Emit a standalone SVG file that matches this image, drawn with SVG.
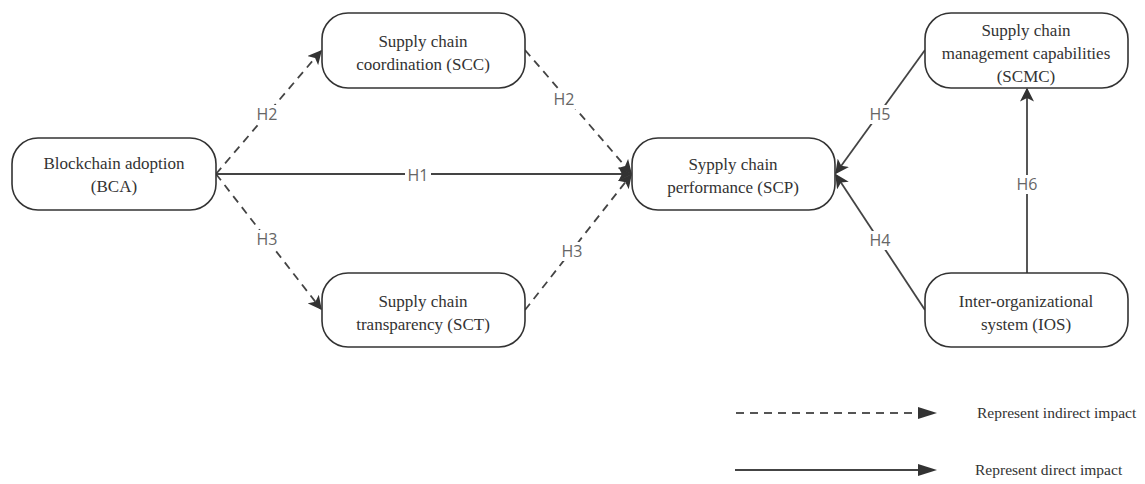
<svg xmlns="http://www.w3.org/2000/svg" width="1145" height="484" viewBox="0 0 1145 484">
<defs>
<marker id="ah" viewBox="0 0 10 10" refX="9" refY="5" markerWidth="14" markerHeight="14" markerUnits="userSpaceOnUse" orient="auto">
<path d="M0,0 L10,5 L0,10 L2.5,5 Z" fill="#333"/>
</marker>
<style>
.node rect{fill:#fff;stroke:#333;stroke-width:1.6}
.node text{font-family:"Liberation Serif","Times New Roman",serif;font-size:17px;fill:#333;text-anchor:middle}
.edge{fill:none;stroke:#444;stroke-width:1.8;marker-end:url(#ah)}
.dash{stroke-dasharray:8 6}
.bg{fill:#fff}
.lbl{font-family:"Open Sans","Noto Sans",sans-serif;font-size:16px;fill:#666;text-anchor:middle}
.leg{font-family:"Liberation Serif","Times New Roman",serif;font-size:15.5px;fill:#333}
</style>
</defs>
<rect width="1145" height="484" fill="#fff"/>
<g id="connectors">
<line class="edge dash" x1="216" y1="174" x2="321" y2="51"/>
<line class="edge dash" x1="216" y1="174" x2="321" y2="309"/>
<line class="edge" x1="216" y1="174" x2="631" y2="174"/>
<line class="edge dash" x1="525" y1="50" x2="631" y2="173"/>
<line class="edge dash" x1="525" y1="310" x2="631" y2="175"/>
<line class="edge" x1="925" y1="50" x2="836" y2="173"/>
<line class="edge" x1="925" y1="310" x2="836" y2="175"/>
<line class="edge" x1="1027" y1="273" x2="1027" y2="89"/>
<rect class="bg" x="254" y="105" width="26" height="19"/>
<rect class="bg" x="254" y="230" width="26" height="19"/>
<rect class="bg" x="405" y="166" width="26" height="19"/>
<rect class="bg" x="551" y="90" width="26" height="19"/>
<rect class="bg" x="559" y="242" width="26" height="19"/>
<rect class="bg" x="867" y="105" width="26" height="19"/>
<rect class="bg" x="867" y="231" width="26" height="19"/>
<rect class="bg" x="1014" y="175" width="26" height="19"/>
<text class="lbl" x="267" y="120">H2</text>
<text class="lbl" x="267" y="245">H3</text>
<text class="lbl" x="418" y="181">H1</text>
<text class="lbl" x="564" y="105">H2</text>
<text class="lbl" x="572" y="257">H3</text>
<text class="lbl" x="880" y="120">H5</text>
<text class="lbl" x="880" y="246">H4</text>
<text class="lbl" x="1027" y="190">H6</text>
</g>
<g id="BCA" class="node"><rect x="12" y="138" width="204" height="72" rx="26"/><text x="114" y="169">Blockchain adoption</text><text x="114" y="192">(BCA)</text></g>
<g id="SCC" class="node"><rect x="322" y="13" width="203" height="75" rx="26"/><text x="423" y="47">Supply chain</text><text x="423" y="70">coordination (SCC)</text></g>
<g id="SCT" class="node"><rect x="322" y="273" width="203" height="74" rx="26"/><text x="423" y="307">Supply chain</text><text x="423" y="330">transparency (SCT)</text></g>
<g id="SCP" class="node"><rect x="632" y="138" width="203" height="72" rx="26"/><text x="733" y="170">Sypply chain</text><text x="733" y="193">performance (SCP)</text></g>
<g id="SCMC" class="node"><rect x="925" y="13" width="203" height="75" rx="26"/><text x="1026" y="36">Supply chain</text><text x="1026" y="59">management capabilities</text><text x="1026" y="82">(SCMC)</text></g>
<g id="IOS" class="node"><rect x="925" y="273" width="203" height="74" rx="26"/><text x="1026" y="307">Inter-organizational</text><text x="1026" y="330">system (IOS)</text></g>
<g id="legend">
<line x1="736" y1="413" x2="918" y2="413" stroke="#555" stroke-width="1.8" stroke-dasharray="8 6"/>
<path d="M918,407 L937,413 L918,419 Z" fill="#333"/>
<line x1="735" y1="470" x2="918" y2="470" stroke="#444" stroke-width="1.8"/>
<path d="M918,464 L937,470 L918,476 Z" fill="#333"/>
<text class="leg" x="977" y="418">Represent indirect impact</text>
<text class="leg" x="975" y="475">Represent direct impact</text>
</g>
</svg>
